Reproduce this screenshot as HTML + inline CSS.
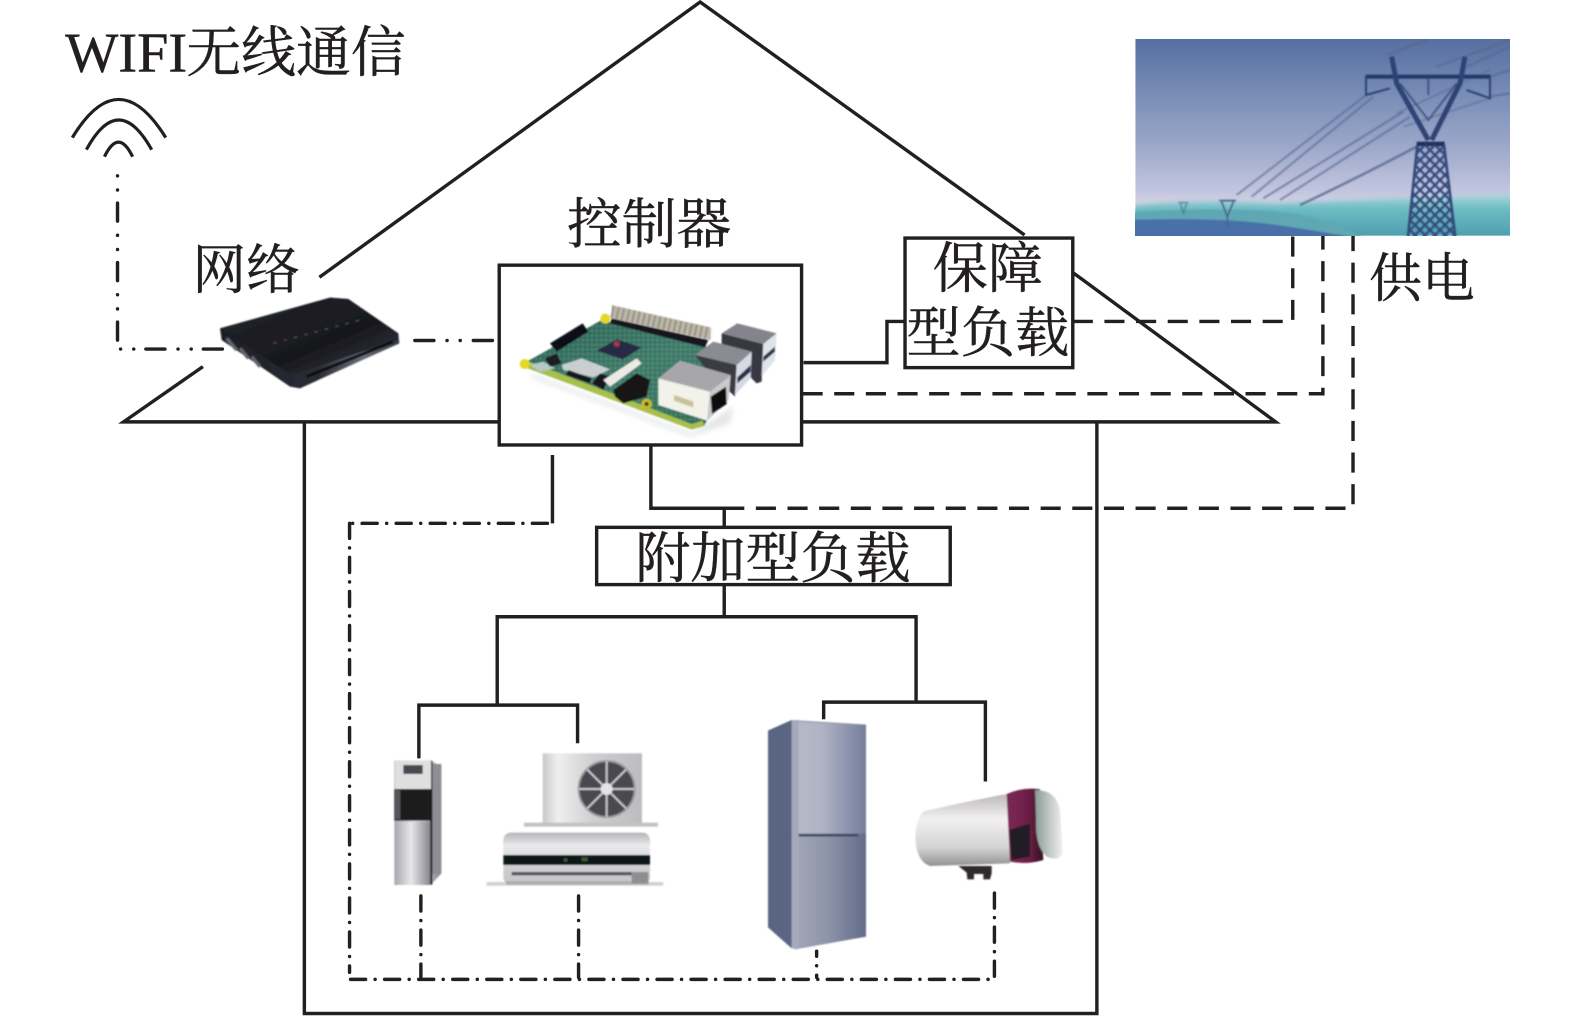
<!DOCTYPE html>
<html lang="zh">
<head>
<meta charset="utf-8">
<title>智能家居负载系统</title>
<style>
html,body{margin:0;padding:0;background:#fff;width:1575px;height:1017px;overflow:hidden}
svg{display:block}
text{font-family:"Liberation Serif","Noto Serif CJK SC",serif;fill:#231f20;stroke:#231f20;stroke-width:.45}
</style>
</head>
<body>
<svg width="1575" height="1017" viewBox="0 0 1575 1017" xmlns="http://www.w3.org/2000/svg">
<defs>
<clipPath id="photo"><rect x="46" y="27" width="1124" height="590"/></clipPath>
<linearGradient id="sky" x1="0" y1="0" x2="0" y2="1">
<stop offset="0" stop-color="#566f9f"/><stop offset=".25" stop-color="#7489b4"/><stop offset=".55" stop-color="#9da8ca"/><stop offset=".78" stop-color="#c4c6df"/><stop offset=".84" stop-color="#d8d4e6"/><stop offset="1" stop-color="#d8d4e6"/>
</linearGradient>
<linearGradient id="sea" x1="0" y1="0" x2="0" y2="1">
<stop offset="0" stop-color="#a6d6da"/><stop offset=".25" stop-color="#6cbcc2"/><stop offset="1" stop-color="#3f8fa8"/>
</linearGradient>
<pattern id="lat" width="30" height="30" patternUnits="userSpaceOnUse">
<path d="M0 0L30 30M30 0L0 30" stroke="#34497c" stroke-width="7"/>
</pattern>
<pattern id="spk" width="14" height="14" patternUnits="userSpaceOnUse">
<rect width="14" height="14" fill="none"/><rect x="1" y="2" width="5" height="3" fill="#1f4a42"/><rect x="8" y="8" width="4" height="4" fill="#7fb3a0"/>
</pattern>
<linearGradient id="rtop" x1="0" y1="0" x2="1" y2="1"><stop offset="0" stop-color="#25262c"/><stop offset=".6" stop-color="#17181d"/><stop offset="1" stop-color="#3b3d46"/></linearGradient>
<linearGradient id="rside" x1="0" y1="0" x2="1" y2="0"><stop offset="0" stop-color="#1c1d24"/><stop offset=".55" stop-color="#2a2c36"/><stop offset=".8" stop-color="#6a6d7a"/><stop offset="1" stop-color="#33353f"/></linearGradient>
<linearGradient id="pcb" x1="0" y1="0" x2="1" y2="1"><stop offset="0" stop-color="#2f6556"/><stop offset=".5" stop-color="#437f6c"/><stop offset="1" stop-color="#356e5a"/></linearGradient>
<linearGradient id="steel" x1="0" y1="0" x2="1" y2="0"><stop offset="0" stop-color="#a8a9b0"/><stop offset=".45" stop-color="#e8e8ea"/><stop offset="1" stop-color="#85868d"/></linearGradient>
<linearGradient id="ac1" x1="0" y1="0" x2="1" y2="0"><stop offset="0" stop-color="#c8c8ca"/><stop offset=".15" stop-color="#efeff0"/><stop offset=".5" stop-color="#cfcfd1"/><stop offset="1" stop-color="#bcbcbe"/></linearGradient>
<linearGradient id="ac2" x1="0" y1="0" x2="0" y2="1"><stop offset="0" stop-color="#b5b5b7"/><stop offset=".25" stop-color="#eaeaec"/><stop offset=".6" stop-color="#d2d2d4"/><stop offset="1" stop-color="#c4c4c6"/></linearGradient>
<linearGradient id="fr" x1="0" y1="0" x2="1" y2="0"><stop offset="0" stop-color="#a3a7b8"/><stop offset=".45" stop-color="#8e94a9"/><stop offset="1" stop-color="#626c89"/></linearGradient>
<linearGradient id="fr2" x1="0" y1="0" x2="1" y2="0"><stop offset="0" stop-color="#b7bac8"/><stop offset=".4" stop-color="#aeb2c3"/><stop offset="1" stop-color="#747e9b"/></linearGradient>
<linearGradient id="ht" x1="0" y1="0" x2="0" y2="1"><stop offset="0" stop-color="#b9b6b8"/><stop offset=".35" stop-color="#f2f0f0"/><stop offset=".75" stop-color="#d3d3d3"/><stop offset="1" stop-color="#8f9193"/></linearGradient>
<linearGradient id="hp" x1="0" y1="0" x2="1" y2="0"><stop offset="0" stop-color="#7a2a56"/><stop offset=".6" stop-color="#6d1d46"/><stop offset="1" stop-color="#35141f"/></linearGradient>
<linearGradient id="hc" x1="0" y1="0" x2="1" y2="0"><stop offset="0" stop-color="#8b9a95"/><stop offset=".6" stop-color="#c8cfcc"/><stop offset="1" stop-color="#eef0ef"/></linearGradient>
<filter id="b1" x="-10%" y="-10%" width="120%" height="120%"><feGaussianBlur stdDeviation="2.4"/></filter>
<filter id="b3" x="-10%" y="-10%" width="120%" height="120%"><feGaussianBlur stdDeviation="8"/></filter>
</defs>

<rect width="1575" height="1017" fill="#fff"/>

<!-- power photo (zoom-3 space) -->
<g transform="translate(1120 30) scale(.33333)">
<g clip-path="url(#photo)">
<rect x="46" y="27" width="1124" height="590" fill="url(#sky)"/>
<path d="M20 530Q200 505 470 520L800 505L1200 495V660H20Z" fill="url(#sea)" filter="url(#b3)"/>
<g filter="url(#b1)">
<path d="M20 548Q300 530 470 545T760 640H20Z" fill="#5ea7b3"/>
<path d="M20 570Q300 560 470 585T800 640H20Z" fill="#4a70a8"/>
<g stroke="#54658f" fill="none">
<path d="M350 495L745 190M395 500L760 200" stroke-width="6" opacity=".6"/>
<path d="M430 505L850 245M480 510L870 260" stroke-width="6" opacity=".65"/>
<path d="M540 525Q700 450 890 350" stroke-width="7" opacity=".8"/>
<path d="M800 75L920 30M950 110L1170 30M1040 110L1170 50M1110 200L1170 190M1110 140L1170 120" stroke-width="6" opacity=".65"/>
<path d="M830 250L1110 120M850 290L1110 205" stroke-width="5" opacity=".5"/>
</g>
<rect x="736" y="134" width="376" height="12" fill="#26386b"/>
<g stroke="#2f4274" fill="none">
<path d="M738 140V195L810 175M1110 140V205L1040 180" stroke-width="6"/>
<path d="M815 80L830 160L925 330M1035 80L1020 160L935 330" stroke-width="15"/>
<path d="M840 160L925 270L1010 160M925 140V195" stroke-width="6" opacity=".7"/>
<path d="M890 342H974" stroke-width="14" stroke="#202e5e"/>
</g>
<path d="M892 345H972L1008 640H862Z" fill="url(#lat)"/>
<path d="M892 345L862 640M972 345L1008 640" stroke="#34497c" stroke-width="8" fill="none"/>
<g stroke="#4d628a" fill="none" stroke-width="5">
<path d="M298 512H348M305 515L322 560M340 515L322 560M322 555V590"/>
<path d="M175 518H205M182 520L190 552M200 520L190 552" opacity=".55"/>
</g>
</g>
</g>
</g>

<!-- main line work, first-look space -->
<g transform="scale(1.00447)" fill="none" stroke="#231f20" stroke-width="3.4">
<path d="M202 365L123 420H1270L1069 272M1020 234L697 2L318 276"/>
<path d="M303 420V1009H1092V420"/>
<rect x="497" y="264" width="301" height="179" fill="#fff"/>
<rect x="901" y="237" width="167" height="129" fill="#fff"/>
<path d="M800 361H883V320H901"/>
<path d="M648 443V506H721V525"/>
<path d="M550 453V521"/>
<path d="M721 582V614M495 702V614H912V699M417 755V702H575V740M820 716V699H981V778"/>

<path d="M1068 320H1287V235" stroke-dasharray="20 11.5"/>
<path d="M799 392H1317V235" stroke-dasharray="20 11.5"/>
<path d="M721 506H1347V235" stroke-dasharray="20 11.5"/>

<g stroke-linecap="round" stroke-width="3.4">
<path d="M117 175V340" stroke-dasharray=".1 14 .1 13 18 14"/>
<path d="M120 347.5H222" stroke-dasharray=".1 13 .1 12 19 13"/>
<path d="M413 339H495" stroke-dasharray="19 13 .1 13 .1 13"/>
<path d="M545 521H350" stroke-dasharray="15 9.4 .1 9.4"/>
<path d="M348 521V968" stroke-dasharray="15 9.4 .1 9.4"/>
<path d="M349 975H990V884" stroke-dasharray="15 9.4 .1 9.4"/>
<path d="M419 892V973" stroke-dasharray="15 9.4 .1 9.4"/>
<path d="M576 892V973" stroke-dasharray="15 9.4 .1 9.4"/>
<path d="M813 947V973" stroke-dasharray="5 9.4 .1 9.4"/>
</g>

<path d="M72 137Q118 61 165 137M86 149Q118 90 151 149M104 156Q118 127 132 156" stroke-width="3.2"/>
<rect x="594" y="525" width="352" height="57" fill="#fff"/>
</g>

<!-- Raspberry Pi (zoom-8 space) -->
<g transform="translate(500 290) scale(.33333)">
<path d="M90 250L575 430L700 350L690 400L570 440L100 265Z" fill="#c9ccd0" opacity=".5" filter="url(#b3)"/>
<g filter="url(#b1)">
<path d="M60 226L305 90L720 195L612 408L575 418Z" fill="url(#pcb)"/>
<path d="M60 226L305 90L720 195L612 408L575 418Z" fill="url(#spk)" opacity=".6"/>
<path d="M60 226L575 418L612 408L608 392L575 402L75 210Z" fill="#a8c04c"/>
<circle cx="74" cy="222" r="15" fill="#e3d823"/>
<circle cx="316" cy="86" r="15" fill="#e6d62a"/>
<circle cx="440" cy="342" r="16" fill="#c6b928"/>
<circle cx="440" cy="342" r="6" fill="#333"/>
<path d="M335 45L632 112V150L335 85Z" fill="#bcb7a8"/>
<path d="M335 65L632 132" stroke="#8e8a7d" stroke-width="36" stroke-dasharray="5 11" fill="none"/>
<path d="M335 85L625 150L615 172L330 100Z" fill="#15171a"/>
<path d="M150 160L248 100L265 125L170 185Z" fill="#0d0f12"/>
<path d="M290 182L350 148L425 172L368 208Z" fill="#272a42"/>
<circle cx="350" cy="162" r="9" fill="#a8344a"/>
<path d="M185 225L245 205L330 238L280 262L190 240Z" fill="#c9cfd0"/>
<path d="M198 255L270 280L275 265L205 240Z" fill="#17191c"/>
<path d="M275 280L300 250L330 260L310 300Z" fill="#17191c"/>
<path d="M310 270L410 205L425 220L330 290Z" fill="#eceae4"/>
<path d="M340 300L410 250L450 270L440 320L370 340L345 320Z" fill="#141618"/>
<path d="M90 225L130 215L165 235L120 245Z" fill="#b6c8c8"/>
<path d="M135 205L170 190L185 220L150 230Z" fill="#1a1d20"/>
<path d="M665 130L712 100L830 130L790 162Z" fill="#84848c"/>
<path d="M665 130L790 162L785 275L770 280L665 175Z" fill="#37383f"/>
<path d="M790 162L830 130L825 210L785 260Z" fill="#dfe3ea"/>
<path d="M790 200L825 170V185L790 215Z" fill="#2d3247"/>
<path d="M585 195L640 155L755 185L710 225Z" fill="#8b8b92"/>
<path d="M585 195L710 225L705 320L620 240Z" fill="#3a3b43"/>
<path d="M710 225L755 185L752 265L705 315Z" fill="#d5dae3"/>
<path d="M712 262L752 225V245L712 280Z" fill="#2d3247"/>
<path d="M475 265L540 212L692 255L630 305Z" fill="#a7a7ab"/>
<path d="M475 265L630 305L622 392L475 345Z" fill="#f2f1ea"/>
<path d="M522 315L580 335V352L522 332Z" fill="#c9c19a"/>
<path d="M630 305L692 255L686 330L622 392Z" fill="#c9c9cc"/>
<path d="M632 320L678 290L680 342L636 372Z" fill="#111"/>
</g>
</g>

<!-- Router (zoom-1 space) -->
<g transform="translate(40 0) scale(.33333)">
<g filter="url(#b1)">
<path d="M540 985L870 893L925 897L1075 1000L1078 1030L780 1165L750 1160L545 1020Z" fill="url(#rside)"/>
<path d="M540 985L870 893L925 897L1075 1000L1075 1020L770 1120L745 1120Z" fill="url(#rtop)"/>
<path d="M700 1030L960 960" stroke="#55565e" stroke-width="3" stroke-dasharray="10 22"/>
<path d="M560 1015L590 1050M600 1045L625 1075M635 1070L660 1100" stroke="#62646e" stroke-width="10"/>
<path d="M800 1130L1060 1025" stroke="#0b0b0e" stroke-width="9"/>
</g>
</g>

<!-- dispenser + AC (zoom-4 space) -->
<g transform="translate(340 690) scale(.33333)">
<g filter="url(#b1)">
<path d="M163 212H272L304 230V550L272 585H163Z" fill="url(#steel)"/>
<rect x="272" y="222" width="32" height="330" fill="#8d8e95"/>
<rect x="270" y="212" width="7" height="372" fill="#191a1e"/>
<rect x="165" y="212" width="108" height="85" fill="#dfdfe0"/>
<rect x="190" y="225" width="58" height="27" fill="#4b4650"/>
<rect x="163" y="297" width="110" height="95" fill="#1a1a1d"/>
<rect x="165" y="300" width="16" height="88" fill="#56565b"/>
<rect x="165" y="395" width="106" height="190" fill="url(#steel)"/>
<rect x="608" y="190" width="298" height="212" fill="url(#ac1)"/>
<rect x="552" y="398" width="402" height="12" fill="#c2c2c3"/>
<circle cx="800" cy="297" r="84" fill="#4a4a50"/>
<circle cx="800" cy="297" r="84" fill="none" stroke="#99999c" stroke-width="6"/>
<path d="M800 213V381M716 297H884M741 238L859 356M859 238L741 356" stroke="#c8c8ca" stroke-width="6"/>
<circle cx="800" cy="297" r="18" fill="#e4e4e6"/>
<rect x="490" y="428" width="440" height="155" rx="22" fill="url(#ac2)"/>
<rect x="490" y="495" width="440" height="30" fill="#111214"/>
<path d="M672 505h10v10h-10zM725 502h18v12h-18z" fill="#3a5a32"/>
<rect x="515" y="546" width="360" height="10" fill="#565658"/>
<rect x="498" y="575" width="428" height="9" fill="#85868a"/>
<rect x="440" y="576" width="530" height="11" fill="#bdbdbe" opacity=".7"/>
<rect x="875" y="546" width="50" height="34" fill="#8d8e91"/>
</g>
</g>

<!-- fridge + heater (zoom-5 space) -->
<g transform="translate(740 690) scale(.33333)">
<g filter="url(#b1)">
<path d="M84 122L155 90L378 104V740L165 778L84 712Z" fill="url(#fr)"/>
<path d="M165 95L378 104V430H165Z" fill="url(#fr2)"/>
<path d="M165 440H378V740L165 775Z" fill="url(#fr)"/>
<path d="M150 436H355" stroke="#3d4660" stroke-width="7"/>
<path d="M84 122L155 90V775L84 712Z" fill="#5a6583"/>
<path d="M155 90H176V775H155Z" fill="#a4a9bb"/>
<path d="M550 365Q650 340 810 310V520L570 528Q530 515 526 445Q528 385 550 365Z" fill="url(#ht)"/>
<path d="M800 312Q850 290 900 298L910 510Q860 525 810 515Z" fill="url(#hp)"/>
<path d="M808 420L870 400V500L815 510Z" fill="#241f28"/>
<path d="M885 300Q950 300 960 360L968 490Q955 515 920 500Q885 470 888 390Z" fill="url(#hc)"/>
<path d="M655 528H755L755 550L750 568H730V552H702V568H682L680 548Z" fill="#2d2a2c"/>
</g>
</g>

<!-- labels, first-look space -->
<g transform="scale(1.00447)">
<text x="65" y="71" font-size="56">WIFI</text>
<text x="185.5" y="71" font-size="54.6">无线通信</text>
<text x="191.5" y="287" font-size="53.6">网络</text>
<text x="564.5" y="242" font-size="54.5">控制器</text>
<text x="928.5" y="286" font-size="55">保障</text>
<text x="902.5" y="350" font-size="54">型负载</text>
<text x="632.5" y="575" font-size="54.8">附加型负载</text>
<text x="1363" y="295" font-size="52.6">供电</text>
</g>
</svg>
</body>
</html>
